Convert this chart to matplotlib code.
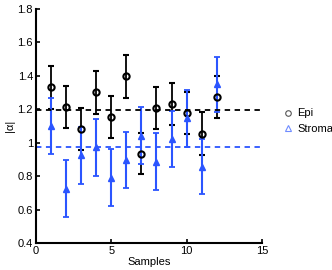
import matplotlib.pyplot as plt
import numpy as np
from matplotlib.lines import Line2D

plt.rcParams["font.family"] = ["Liberation Sans", "DejaVu Sans"]

samples = np.arange(1, 13)

epi_vals = [1.331, 1.213, 1.082, 1.301, 1.154, 1.397, 0.934, 1.206, 1.230, 1.178, 1.054, 1.273]
epi_err = [0.128, 0.127, 0.126, 0.128, 0.124, 0.130, 0.123, 0.127, 0.127, 0.127, 0.127, 0.127]

stroma_vals = [1.100, 0.724, 0.924, 0.972, 0.790, 0.896, 1.042, 0.886, 1.022, 1.146, 0.856, 1.349]
stroma_err = [0.170, 0.171, 0.172, 0.171, 0.170, 0.168, 0.170, 0.170, 0.170, 0.172, 0.165, 0.166]

blue = "#2b55ff"

fig = plt.figure(figsize=(3.32, 2.70), dpi=100)
ax = fig.add_axes([0.108, 0.10, 0.681, 0.867])

ax.errorbar(samples, epi_vals, yerr=epi_err, fmt="o", color="black",
            mfc="none", mec="black", mew=1.5, ms=4.5, lw=1.3, capsize=2, capthick=1.3)
ax.errorbar(samples, stroma_vals, yerr=stroma_err, fmt="^", color=blue,
            mfc=blue, mec=blue, ms=4.5, lw=1.5, capsize=2, capthick=1.3)

ax.plot([0, 15], [np.mean(epi_vals)] * 2, "--", color="black", lw=1.3, dashes=(3, 2.5))
ax.plot([0, 15], [np.mean(stroma_vals)] * 2, "--", color=blue, lw=1.3, dashes=(3, 2.5))

ax.set_xlim(0, 15)
ax.set_ylim(0.4, 1.8)
ax.set_xticks([0, 5, 10, 15])
ax.set_yticks(np.arange(0.4, 1.81, 0.2))
ax.set_yticklabels(["0.4", "0.6", "0.8", "1", "1.2", "1.4", "1.6", "1.8"])
ax.tick_params(direction="in", length=3, width=1.2, labelsize=8, pad=2)
for side in ["top", "right"]:
    ax.spines[side].set_visible(False)
for side in ["left", "bottom"]:
    ax.spines[side].set_linewidth(1.5)

ax.set_xlabel("Samples", fontsize=8, labelpad=1)
ax.set_ylabel("|α|", fontsize=8, labelpad=2)

handles = [
    Line2D([], [], ls="none", marker="o", mfc="none", mec="#555555", ms=4, mew=0.8, label="Epi"),
    Line2D([], [], ls="none", marker="^", mfc="none", mec="#6f8cff", ms=4, mew=0.8, label="Stroma"),
]
ax.legend(handles=handles, loc="center left", bbox_to_anchor=(1.06, 0.52), frameon=False,
          fontsize=8, handletextpad=0.45, handlelength=0.8, labelspacing=0.5,
          borderpad=0.2)

fig.savefig("out.png", dpi=100)
